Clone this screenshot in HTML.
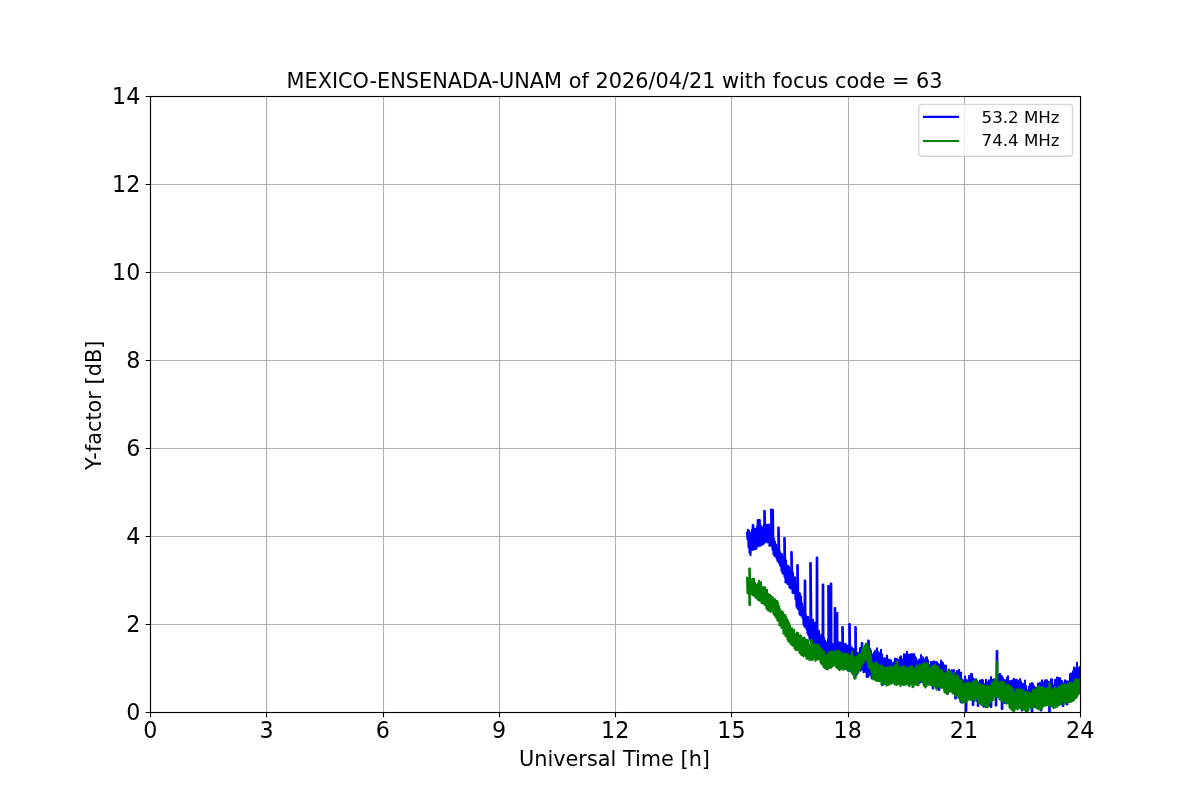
<!DOCTYPE html>
<html lang="en"><head><meta charset="utf-8"><title>MEXICO-ENSENADA-UNAM Y-factor</title>
<style>html,body{margin:0;padding:0;background:#fff;overflow:hidden}svg{display:block}</style>
</head><body>
<svg width="1200" height="800" viewBox="0 0 1200 800">
<defs><clipPath id="axclip"><rect x="150.5" y="96.5" width="930" height="616"/></clipPath></defs>
<rect width="1200" height="800" fill="#ffffff"/>
<path d="M150.5,96.5V712.5M266.5,96.5V712.5M383.5,96.5V712.5M499.5,96.5V712.5M615.5,96.5V712.5M731.5,96.5V712.5M848.5,96.5V712.5M964.5,96.5V712.5M1080.5,96.5V712.5M150.5,712.5H1080.5M150.5,624.5H1080.5M150.5,536.5H1080.5M150.5,448.5H1080.5M150.5,360.5H1080.5M150.5,272.5H1080.5M150.5,184.5H1080.5M150.5,96.5H1080.5" stroke="#b0b0b0" stroke-width="1.11" fill="none"/>
<g clip-path="url(#axclip)" fill="none" stroke-width="2.08" stroke-linejoin="round" stroke-linecap="square">
<path d="M747.0,532.8 L747.5,539.2 L748.0,529.8 L748.5,547.2 L749.0,530.9 L749.5,552.8 L750.0,538.1 L750.5,555.1 L751.0,532.8 L751.5,540.9 L752.0,529.7 L752.5,549.9 L752.7,525.0 L753.3,525.0 L753.5,549.1 L754.0,531.5 L754.5,549.3 L755.0,528.9 L755.5,549.1 L756.0,530.0 L756.5,548.5 L757.0,526.5 L757.5,543.4 L757.7,520.0 L758.3,520.0 L758.5,546.2 L759.0,526.2 L759.5,545.5 L759.2,520.0 L759.8,520.0 L760.5,545.8 L761.0,525.8 L761.5,543.0 L762.0,527.6 L762.5,544.7 L763.0,527.3 L763.5,543.6 L764.0,524.7 L764.5,543.0 L764.2,511.0 L764.8,511.0 L765.5,541.6 L766.0,526.9 L766.5,539.4 L767.0,524.7 L767.5,542.5 L768.0,525.1 L768.5,542.0 L769.0,524.6 L769.5,546.0 L770.0,529.8 L770.5,544.6 L771.0,526.8 L771.5,545.6 L771.0,509.5 L771.6,509.5 L772.5,549.8 L772.4,510.0 L773.0,510.0 L773.5,554.3 L774.0,538.8 L774.5,556.1 L775.0,541.7 L775.5,552.7 L776.0,544.5 L776.5,558.4 L777.0,548.3 L777.5,561.0 L778.0,548.8 L778.5,562.0 L778.2,527.5 L778.8,527.5 L779.5,564.2 L780.0,552.0 L780.5,566.1 L781.0,557.7 L781.5,570.7 L782.0,554.0 L782.5,573.1 L783.0,559.7 L783.5,573.8 L784.0,557.2 L784.5,576.6 L784.2,538.0 L784.8,538.0 L785.5,582.4 L786.0,560.2 L786.5,578.1 L787.0,566.6 L787.5,583.9 L788.0,565.7 L788.5,584.3 L789.0,566.8 L789.5,587.6 L790.0,570.8 L790.5,588.5 L791.0,574.0 L791.5,587.6 L791.2,552.0 L791.8,552.0 L792.5,592.7 L793.0,572.7 L793.5,593.2 L794.0,577.4 L794.5,592.4 L795.0,577.2 L795.5,599.2 L796.0,584.0 L796.5,606.7 L797.0,585.4 L797.5,608.8 L797.2,565.0 L797.8,565.0 L798.5,609.4 L799.0,592.9 L799.5,614.2 L800.0,593.6 L800.5,615.4 L801.0,596.5 L801.5,611.3 L802.0,603.4 L802.5,617.9 L803.0,608.7 L803.5,624.7 L804.0,607.4 L804.5,626.8 L804.7,580.5 L805.3,580.5 L805.5,627.3 L806.0,615.6 L806.5,629.5 L807.0,618.8 L807.5,633.1 L808.0,616.8 L808.5,635.5 L809.0,623.6 L809.5,639.0 L810.0,620.2 L810.5,641.7 L810.2,563.0 L810.8,563.0 L811.5,642.3 L812.0,624.2 L812.5,643.4 L813.0,619.7 L813.5,647.3 L814.0,626.9 L814.5,650.9 L815.0,622.7 L815.5,653.8 L816.0,625.4 L816.5,653.5 L816.7,557.5 L817.3,557.5 L817.5,655.4 L818.0,638.4 L818.5,657.4 L819.0,630.9 L819.5,654.1 L820.0,636.2 L820.5,658.3 L821.0,635.4 L821.5,662.3 L822.0,634.4 L822.5,663.4 L822.7,584.5 L823.3,584.5 L823.5,658.5 L824.0,637.7 L824.5,666.8 L825.0,640.6 L825.5,666.7 L826.0,642.1 L826.5,668.0 L827.0,642.5 L827.5,667.4 L828.0,639.6 L828.5,665.2 L828.2,586.0 L828.8,586.0 L829.5,661.0 L830.0,648.6 L830.5,664.2 L830.7,583.5 L831.3,583.5 L831.5,666.3 L832.0,643.5 L832.5,661.7 L833.0,644.3 L833.5,664.2 L834.0,646.4 L834.5,663.8 L834.7,608.0 L835.3,608.0 L835.5,662.8 L836.0,643.3 L836.5,658.5 L836.7,613.0 L837.3,613.0 L837.5,659.2 L838.0,641.8 L838.5,667.2 L839.0,642.6 L839.5,666.3 L840.0,644.6 L840.5,667.8 L841.0,642.5 L841.5,662.8 L842.0,645.4 L842.5,665.1 L842.2,627.0 L842.8,627.0 L843.5,665.5 L844.0,646.0 L844.5,664.9 L845.0,644.0 L845.5,666.1 L846.0,644.4 L846.5,668.3 L847.0,650.9 L847.5,670.3 L848.0,645.8 L848.5,670.9 L849.0,652.1 L849.5,669.7 L849.2,624.0 L849.8,624.0 L850.5,671.1 L851.0,647.0 L851.5,670.1 L852.0,647.8 L852.5,672.3 L853.0,649.7 L853.5,674.4 L854.0,649.1 L854.5,677.6 L855.0,649.0 L855.5,676.6 L855.2,627.0 L855.8,627.0 L856.5,675.0 L857.0,657.0 L857.5,673.5 L858.0,653.0 L858.5,668.8 L859.0,653.2 L859.5,665.1 L860.0,648.1 L860.5,670.8 L861.0,650.3 L861.5,669.6 L861.7,643.0 L862.3,643.0 L862.5,665.2 L863.0,647.9 L863.5,672.2 L864.0,648.9 L864.5,669.3 L865.0,652.4 L865.5,672.0 L866.0,653.3 L866.5,673.0 L867.0,647.7 L866.7,677.0 L867.3,677.0 L868.0,654.2 L868.5,676.5 L868.2,640.5 L868.8,640.5 L869.5,674.4 L870.0,648.5 L870.5,667.9 L871.0,650.9 L871.5,677.0 L872.0,654.2 L871.7,678.5 L872.3,678.5 L873.0,660.3 L873.5,676.3 L874.0,652.8 L874.5,678.3 L875.0,651.1 L875.5,673.9 L876.0,656.7 L876.5,679.3 L877.0,648.4 L877.5,675.7 L878.0,651.8 L878.5,677.9 L879.0,653.1 L879.5,677.4 L880.0,654.9 L880.5,678.6 L881.0,649.9 L881.5,679.7 L882.0,654.6 L882.5,685.3 L883.0,657.9 L883.5,679.8 L884.0,658.3 L884.5,683.8 L885.0,662.9 L885.5,677.5 L886.0,658.4 L886.5,684.3 L887.0,655.5 L887.5,678.7 L888.0,661.2 L888.5,682.5 L889.0,659.6 L889.5,680.5 L890.0,662.4 L890.5,681.7 L891.0,660.3 L891.5,682.9 L892.0,663.0 L892.5,681.2 L893.0,663.1 L893.5,679.5 L894.0,662.1 L894.5,683.1 L895.0,658.6 L895.5,683.6 L896.0,665.6 L896.5,681.8 L897.0,658.9 L897.5,680.1 L898.0,665.1 L898.5,683.4 L899.0,659.9 L899.5,677.6 L900.0,657.4 L900.5,681.1 L901.0,656.4 L901.5,680.6 L902.0,661.3 L902.5,684.5 L903.0,659.4 L903.5,678.5 L904.0,654.3 L904.5,680.2 L905.0,655.4 L905.5,681.4 L906.0,654.0 L906.5,682.5 L907.0,651.9 L907.5,682.7 L908.0,656.5 L908.5,676.9 L909.0,654.8 L909.5,680.2 L910.0,659.6 L910.5,682.8 L911.0,654.0 L911.5,671.5 L912.0,656.7 L912.5,683.3 L913.0,654.4 L913.5,684.6 L914.0,654.0 L914.5,680.6 L915.0,656.3 L915.5,671.4 L916.0,658.1 L916.5,683.4 L917.0,663.0 L917.5,682.9 L918.0,660.8 L918.5,677.8 L919.0,659.5 L919.5,682.9 L920.0,661.0 L920.5,682.3 L921.0,655.0 L921.5,681.4 L922.0,658.1 L922.5,678.9 L923.0,657.3 L923.5,681.7 L924.0,665.5 L924.5,684.7 L925.0,659.2 L925.5,683.1 L926.0,657.5 L926.5,684.0 L927.0,657.3 L927.5,679.3 L928.0,660.2 L928.5,683.4 L929.0,668.5 L929.5,681.2 L930.0,665.0 L930.5,682.8 L931.0,662.1 L931.5,681.5 L932.0,662.0 L932.5,686.6 L933.0,664.9 L932.7,688.5 L933.3,688.5 L934.0,661.3 L934.5,685.0 L935.0,662.9 L935.5,681.0 L936.0,662.0 L936.5,688.2 L937.0,662.4 L937.5,687.9 L938.0,663.9 L938.5,688.0 L939.0,664.9 L938.7,690.0 L939.3,690.0 L940.0,665.9 L940.5,684.4 L941.0,660.5 L941.5,679.3 L942.0,662.3 L942.5,684.4 L943.0,662.8 L943.5,687.4 L944.0,665.2 L944.5,690.3 L945.0,668.3 L945.5,688.1 L946.0,665.5 L946.5,692.8 L947.0,671.3 L947.5,693.9 L948.0,672.2 L948.5,692.1 L949.0,669.6 L949.5,687.8 L950.0,672.8 L950.5,689.6 L951.0,670.8 L951.5,689.2 L952.0,670.3 L952.5,690.9 L953.0,671.6 L953.5,688.4 L954.0,670.1 L954.5,686.6 L955.0,676.9 L955.2,698.5 L955.8,698.5 L956.0,673.1 L956.5,695.3 L957.0,671.1 L957.5,695.0 L958.0,671.8 L958.5,697.4 L959.0,669.9 L959.5,696.5 L960.0,675.6 L960.5,702.1 L961.0,672.6 L961.5,702.2 L962.0,679.6 L962.5,698.7 L963.0,681.0 L963.5,702.0 L964.0,680.3 L964.5,699.8 L965.0,676.5 L965.5,699.7 L966.0,679.7 L965.7,711.0 L966.3,711.0 L967.0,681.8 L967.5,698.4 L968.0,680.4 L968.5,695.0 L969.0,676.1 L969.5,697.9 L970.0,676.0 L970.5,697.6 L971.0,674.1 L971.5,699.4 L972.0,674.1 L972.5,695.9 L973.0,678.3 L972.7,705.0 L973.3,705.0 L974.0,679.2 L974.5,696.4 L975.0,682.3 L975.5,696.5 L976.0,679.5 L976.5,700.7 L977.0,682.4 L977.5,700.5 L978.0,682.6 L977.7,706.0 L978.3,706.0 L979.0,682.4 L979.5,702.7 L980.0,680.6 L980.5,697.7 L981.0,689.4 L981.5,704.4 L982.0,679.9 L982.5,696.9 L983.0,680.5 L983.5,706.8 L984.0,684.0 L984.5,704.4 L985.0,686.2 L985.5,707.0 L986.0,679.8 L986.5,701.8 L987.0,682.3 L987.5,701.9 L988.0,684.0 L988.5,699.7 L989.0,680.2 L989.5,704.6 L990.0,682.1 L990.5,702.5 L991.0,677.1 L990.7,707.0 L991.3,707.0 L992.0,679.9 L992.5,699.9 L993.0,683.2 L993.5,695.4 L994.0,679.3 L994.5,695.4 L995.0,681.3 L995.5,696.2 L996.0,680.4 L995.7,705.5 L996.3,705.5 L996.7,651.0 L997.3,651.0 L997.5,693.2 L998.0,675.1 L998.5,697.2 L999.0,675.2 L999.5,692.9 L1000.0,673.9 L1000.5,698.7 L1001.0,675.7 L1001.5,698.5 L1002.0,676.4 L1001.7,709.0 L1002.3,709.0 L1003.0,678.1 L1003.5,694.2 L1004.0,679.8 L1004.5,701.0 L1005.0,680.3 L1004.7,703.0 L1005.3,703.0 L1006.0,682.7 L1006.5,700.2 L1007.0,677.5 L1007.5,701.6 L1008.0,676.4 L1008.5,702.7 L1009.0,681.1 L1009.5,704.1 L1010.0,684.9 L1010.5,706.9 L1011.0,680.8 L1011.5,708.3 L1012.0,685.5 L1012.5,709.5 L1013.0,680.0 L1013.5,708.9 L1014.0,678.9 L1014.5,703.9 L1015.0,683.9 L1015.5,701.4 L1016.0,679.9 L1016.5,707.2 L1017.0,679.9 L1017.5,705.3 L1018.0,685.4 L1018.5,701.4 L1019.0,680.8 L1019.5,702.8 L1020.0,679.1 L1020.5,706.7 L1021.0,681.5 L1021.5,705.0 L1022.0,686.5 L1021.7,710.5 L1022.3,710.5 L1023.0,683.8 L1023.5,702.2 L1024.0,686.2 L1024.5,707.4 L1025.0,680.5 L1025.5,705.4 L1026.0,686.0 L1026.5,710.7 L1027.0,690.5 L1027.5,706.8 L1028.0,692.0 L1028.5,697.6 L1029.0,686.5 L1029.5,705.1 L1030.0,684.1 L1030.5,707.8 L1031.0,684.6 L1031.5,704.8 L1032.0,683.0 L1031.7,712.0 L1032.3,712.0 L1033.0,684.0 L1033.5,706.8 L1034.0,686.4 L1034.5,706.5 L1035.0,687.6 L1035.5,703.9 L1036.0,693.8 L1036.5,705.6 L1037.0,691.5 L1037.5,706.8 L1038.0,683.5 L1038.5,704.3 L1039.0,685.2 L1039.5,705.4 L1040.0,682.8 L1040.5,703.3 L1041.0,684.1 L1040.7,710.5 L1041.3,710.5 L1042.0,680.2 L1042.5,705.2 L1043.0,682.3 L1043.5,704.0 L1044.0,682.6 L1044.5,702.0 L1045.0,680.4 L1045.5,705.2 L1046.0,680.4 L1046.5,700.5 L1047.0,680.3 L1047.5,702.5 L1048.0,682.1 L1048.5,704.1 L1049.0,681.9 L1049.2,712.0 L1049.8,712.0 L1050.0,683.3 L1050.5,704.4 L1051.0,679.4 L1051.5,700.5 L1052.0,679.2 L1052.5,703.6 L1053.0,685.6 L1053.5,701.8 L1054.0,685.1 L1054.5,706.0 L1055.0,679.9 L1055.5,696.9 L1056.0,683.3 L1056.5,703.6 L1057.0,677.5 L1057.5,705.7 L1058.0,677.9 L1058.5,695.2 L1059.0,680.3 L1059.5,701.4 L1060.0,678.0 L1060.5,702.8 L1061.0,680.9 L1061.5,702.2 L1062.0,680.8 L1062.5,701.3 L1063.0,683.2 L1062.7,706.0 L1063.3,706.0 L1064.0,683.2 L1064.5,702.3 L1065.0,680.2 L1065.5,697.6 L1066.0,681.8 L1066.5,699.4 L1067.0,681.3 L1066.7,704.5 L1067.3,704.5 L1068.0,684.3 L1068.5,699.6 L1069.0,681.2 L1069.5,701.6 L1070.0,674.4 L1070.5,700.1 L1071.0,673.5 L1071.5,694.7 L1072.0,674.1 L1072.5,700.0 L1073.0,671.4 L1073.5,696.7 L1074.0,667.6 L1074.5,698.9 L1075.0,668.3 L1075.5,690.4 L1076.0,670.0 L1076.5,691.1 L1077.0,662.7 L1077.5,693.5 L1078.0,668.1 L1078.5,693.1 L1079.0,672.0 L1079.5,691.3 L1080.0,666.8 L1080.5,686.3 L1081.0,667.7" stroke="#0000ff"/>
<path d="M747.0,577.7 L747.5,593.3 L748.0,578.5 L748.5,592.3 L749.0,579.0 L749.4,605.0 L750.0,605.0 L749.2,568.5 L749.8,568.5 L750.5,591.9 L751.0,579.4 L751.5,593.8 L752.0,579.6 L752.5,595.1 L753.0,578.9 L753.5,594.6 L754.0,578.9 L754.5,596.1 L755.0,582.6 L755.5,597.7 L756.0,584.5 L756.5,596.0 L757.0,584.6 L757.5,599.5 L758.0,583.3 L758.5,599.9 L759.0,580.8 L759.5,600.6 L760.0,588.1 L760.5,600.5 L761.0,582.0 L761.5,602.9 L762.0,587.1 L762.5,603.1 L763.0,587.0 L763.5,603.4 L764.0,588.7 L764.5,604.6 L765.0,587.2 L765.5,605.5 L766.0,590.2 L766.5,608.6 L767.0,589.9 L767.5,609.7 L768.0,593.9 L768.5,610.6 L769.0,595.2 L769.5,607.4 L770.0,594.9 L770.5,612.0 L771.0,595.7 L771.5,608.1 L772.0,597.4 L772.5,611.2 L773.0,597.3 L773.5,614.0 L774.0,599.0 L774.5,615.1 L775.0,599.3 L775.5,616.6 L776.0,603.5 L776.5,618.3 L777.0,600.7 L777.5,620.6 L778.0,602.6 L778.5,620.6 L779.0,606.1 L779.5,625.5 L780.0,609.2 L780.5,624.9 L781.0,611.9 L781.5,627.9 L782.0,611.4 L782.5,626.1 L783.0,612.2 L783.5,633.7 L784.0,616.2 L784.5,633.6 L785.0,614.7 L785.5,636.3 L786.0,616.4 L786.5,634.3 L787.0,618.9 L787.5,639.6 L788.0,620.7 L788.5,641.6 L789.0,623.1 L789.5,640.4 L790.0,625.6 L790.5,643.6 L791.0,629.9 L791.5,644.4 L792.0,628.3 L792.5,645.6 L793.0,630.4 L793.5,645.8 L794.0,629.9 L794.5,648.2 L795.0,633.8 L795.5,649.9 L796.0,635.4 L796.5,645.9 L797.0,632.5 L797.5,650.1 L798.0,633.1 L798.5,647.2 L799.0,635.9 L799.5,652.7 L800.0,635.2 L800.5,653.8 L801.0,635.8 L801.5,655.1 L802.0,637.9 L802.5,654.7 L803.0,639.5 L803.5,656.4 L804.0,637.5 L804.5,654.3 L805.0,638.8 L805.5,655.7 L806.0,641.4 L806.5,658.6 L807.0,639.7 L807.5,658.6 L808.0,640.5 L808.5,655.4 L809.0,644.1 L809.5,660.3 L810.0,647.4 L810.5,659.2 L811.0,646.8 L811.5,659.8 L811.2,640.0 L811.8,640.0 L812.5,660.0 L813.0,643.4 L813.5,658.3 L814.0,646.8 L814.5,658.6 L815.0,644.3 L815.5,661.0 L816.0,644.6 L816.5,659.0 L817.0,646.7 L817.5,659.5 L818.0,644.5 L818.5,659.2 L819.0,645.9 L819.5,658.9 L820.0,647.6 L820.5,662.5 L821.0,648.4 L821.5,663.9 L822.0,649.3 L822.5,664.5 L823.0,650.6 L823.5,666.8 L824.0,651.8 L824.5,667.8 L825.0,655.7 L825.5,668.2 L826.0,656.6 L826.5,669.0 L827.0,654.8 L827.5,669.5 L828.0,655.5 L828.5,666.4 L829.0,652.3 L829.5,668.1 L830.0,655.8 L830.5,667.2 L831.0,651.3 L831.5,667.7 L832.0,652.5 L832.5,665.9 L833.0,651.5 L833.5,665.6 L834.0,652.2 L834.5,663.3 L835.0,652.6 L835.5,665.7 L836.0,650.5 L836.5,667.8 L837.0,651.1 L837.5,667.6 L838.0,651.9 L838.5,669.1 L839.0,650.8 L839.5,670.3 L840.0,653.8 L840.5,668.6 L841.0,652.0 L841.5,668.9 L842.0,654.9 L842.5,667.9 L843.0,654.1 L843.5,670.0 L844.0,653.3 L844.5,668.7 L845.0,654.4 L845.5,668.9 L846.0,653.8 L846.5,667.9 L847.0,656.2 L847.5,670.2 L848.0,654.4 L848.5,670.7 L849.0,658.5 L849.5,669.7 L850.0,656.9 L850.5,669.8 L851.0,655.2 L851.5,672.5 L852.0,651.6 L852.5,674.0 L853.0,659.4 L853.5,671.1 L854.0,657.1 L854.5,678.8 L855.0,659.3 L855.5,678.5 L856.0,659.6 L856.5,672.6 L857.0,656.1 L857.5,672.5 L858.0,658.7 L858.5,672.1 L859.0,654.0 L859.5,670.4 L860.0,655.8 L860.5,668.1 L861.0,653.9 L861.5,665.8 L862.0,650.1 L862.5,664.3 L863.0,647.5 L863.5,663.0 L864.0,648.8 L864.5,657.7 L865.0,645.4 L865.5,660.0 L866.0,643.6 L866.5,658.1 L867.0,644.8 L867.5,662.2 L868.0,645.8 L868.5,667.4 L869.0,648.5 L869.5,668.1 L870.0,651.7 L870.5,669.0 L871.0,656.6 L871.5,672.3 L872.0,666.9 L872.5,677.6 L873.0,663.2 L873.5,679.5 L874.0,663.5 L874.5,677.7 L875.0,664.2 L875.5,680.2 L876.0,662.1 L876.5,680.9 L877.0,662.9 L877.5,679.4 L878.0,664.9 L878.5,681.3 L879.0,666.5 L879.5,681.0 L880.0,666.1 L880.5,680.5 L881.0,668.2 L881.5,684.7 L882.0,665.2 L882.5,682.9 L883.0,670.7 L883.5,682.4 L884.0,667.4 L884.5,684.2 L885.0,667.6 L885.5,679.2 L886.0,667.7 L886.5,685.7 L887.0,667.8 L887.5,682.9 L888.0,667.8 L888.5,684.9 L889.0,669.6 L889.5,684.3 L890.0,666.1 L890.5,681.0 L891.0,667.1 L891.5,683.8 L892.0,670.0 L892.5,680.4 L893.0,667.2 L893.5,682.0 L894.0,666.4 L894.5,684.3 L895.0,665.2 L895.5,684.2 L896.0,665.2 L896.5,685.1 L896.7,662.0 L897.3,662.0 L897.5,683.8 L898.0,665.8 L898.5,684.3 L899.0,667.8 L899.5,681.9 L900.0,668.0 L900.5,686.1 L901.0,667.3 L901.5,683.0 L902.0,666.4 L902.5,683.4 L903.0,667.1 L903.5,684.9 L904.0,666.4 L904.5,685.0 L905.0,669.9 L905.5,684.4 L906.0,668.0 L906.5,682.8 L907.0,668.0 L907.5,684.1 L908.0,670.3 L908.5,685.3 L909.0,668.1 L909.5,686.1 L910.0,666.6 L910.5,684.3 L911.0,667.5 L911.5,681.5 L912.0,666.4 L912.5,687.2 L913.0,668.4 L913.5,686.7 L914.0,668.7 L914.5,684.1 L915.0,668.7 L915.5,684.6 L916.0,668.1 L916.5,682.6 L917.0,665.4 L917.5,685.2 L918.0,670.5 L918.5,685.3 L919.0,666.3 L919.5,681.1 L920.0,664.7 L920.5,679.9 L921.0,666.6 L921.5,680.5 L922.0,665.8 L922.5,682.0 L923.0,664.0 L923.5,684.8 L924.0,663.3 L924.5,686.3 L925.0,663.2 L925.5,687.6 L926.0,663.0 L926.5,686.1 L927.0,664.1 L927.5,679.2 L928.0,664.4 L928.5,684.7 L929.0,668.6 L929.5,684.6 L930.0,670.3 L930.5,682.4 L931.0,667.8 L931.5,685.4 L932.0,666.6 L932.5,682.9 L933.0,666.1 L933.5,686.6 L934.0,665.9 L934.5,681.1 L935.0,665.0 L935.5,686.8 L936.0,669.0 L936.5,689.6 L937.0,666.2 L937.5,686.1 L938.0,666.7 L938.5,686.4 L939.0,670.6 L939.5,686.5 L940.0,670.9 L940.5,687.5 L941.0,670.0 L941.5,687.6 L942.0,670.5 L942.5,687.7 L943.0,674.0 L943.5,686.9 L944.0,673.8 L944.5,692.5 L945.0,673.2 L945.5,692.0 L946.0,677.9 L946.5,693.4 L947.0,671.7 L947.5,694.3 L948.0,671.7 L948.5,691.5 L949.0,670.4 L949.5,690.4 L950.0,673.2 L950.5,691.7 L951.0,672.0 L951.5,688.2 L952.0,675.4 L952.5,692.9 L953.0,675.8 L953.5,693.8 L954.0,672.7 L954.5,691.6 L955.0,680.5 L955.5,695.6 L956.0,678.1 L956.5,695.6 L957.0,674.7 L957.5,693.6 L958.0,676.9 L958.5,697.6 L959.0,681.5 L959.5,698.8 L960.0,679.8 L960.5,700.0 L961.0,681.3 L961.5,702.6 L962.0,680.8 L962.5,702.4 L963.0,684.2 L963.5,702.7 L964.0,685.6 L964.5,699.6 L965.0,683.7 L965.5,700.3 L966.0,686.5 L966.5,702.1 L967.0,682.8 L967.5,698.7 L968.0,682.2 L968.5,699.7 L969.0,685.0 L969.5,698.6 L970.0,683.2 L970.5,700.0 L971.0,685.3 L971.5,699.3 L972.0,683.1 L972.5,699.4 L973.0,681.9 L973.5,698.1 L974.0,681.1 L974.5,701.1 L975.0,682.8 L975.5,698.9 L976.0,679.1 L976.5,696.5 L977.0,680.4 L977.5,699.2 L978.0,685.2 L978.5,703.3 L979.0,683.7 L979.5,699.0 L980.0,684.5 L980.5,702.4 L981.0,685.5 L981.5,704.6 L982.0,685.4 L982.5,704.5 L983.0,685.6 L983.5,705.3 L984.0,685.4 L984.5,705.5 L985.0,688.6 L985.5,702.6 L986.0,690.9 L986.5,707.1 L987.0,685.7 L987.5,707.3 L988.0,685.8 L988.5,706.5 L989.0,691.0 L989.5,702.7 L990.0,688.3 L990.5,701.7 L991.0,685.8 L991.5,701.2 L992.0,682.3 L992.5,699.2 L993.0,682.4 L993.5,700.0 L994.0,682.4 L994.5,691.4 L995.0,680.0 L995.5,696.4 L996.0,681.9 L996.5,696.7 L996.7,662.0 L997.3,662.0 L997.5,695.8 L998.0,682.5 L998.5,696.4 L999.0,682.5 L999.5,699.4 L1000.0,683.0 L1000.5,695.7 L1001.0,682.1 L1001.5,701.1 L1002.0,681.6 L1002.5,701.3 L1003.0,684.9 L1003.5,701.7 L1004.0,682.3 L1004.5,698.7 L1005.0,687.7 L1005.5,702.5 L1006.0,685.3 L1006.5,703.7 L1007.0,685.5 L1007.5,702.8 L1008.0,684.6 L1008.5,702.8 L1009.0,686.8 L1009.5,707.1 L1010.0,686.4 L1010.5,708.8 L1011.0,688.9 L1011.5,708.1 L1012.0,688.1 L1012.5,710.2 L1013.0,688.8 L1013.5,711.4 L1014.0,693.0 L1014.5,710.5 L1015.0,693.5 L1015.5,708.5 L1016.0,690.2 L1016.5,704.1 L1017.0,689.4 L1017.5,709.5 L1018.0,689.3 L1018.5,708.6 L1019.0,689.7 L1019.5,706.8 L1020.0,689.7 L1020.5,707.9 L1021.0,689.5 L1021.5,706.3 L1022.0,690.3 L1022.5,709.7 L1023.0,690.3 L1023.5,709.4 L1024.0,691.8 L1024.5,706.4 L1025.0,691.9 L1025.5,710.9 L1026.0,691.7 L1026.5,711.0 L1027.0,693.1 L1027.5,711.3 L1028.0,693.3 L1028.5,710.1 L1029.0,692.3 L1029.5,706.7 L1030.0,693.4 L1030.5,706.9 L1031.0,693.7 L1031.5,708.8 L1032.0,694.4 L1032.5,706.9 L1033.0,689.8 L1033.5,702.2 L1034.0,689.6 L1034.5,705.0 L1035.0,691.5 L1035.5,707.4 L1036.0,691.1 L1036.5,708.2 L1037.0,687.5 L1037.5,703.8 L1038.0,691.4 L1038.5,709.4 L1039.0,686.4 L1039.5,705.6 L1040.0,688.3 L1040.5,708.7 L1041.0,687.6 L1041.5,709.9 L1042.0,689.9 L1042.5,707.2 L1043.0,687.1 L1043.5,706.2 L1044.0,688.9 L1044.5,704.2 L1045.0,688.6 L1045.5,705.6 L1046.0,688.5 L1046.5,703.8 L1047.0,691.8 L1047.5,704.9 L1048.0,687.7 L1048.5,705.6 L1049.0,691.9 L1049.5,705.5 L1049.2,683.5 L1049.8,683.5 L1050.5,704.4 L1051.0,693.6 L1051.5,706.3 L1052.0,690.0 L1052.5,706.6 L1053.0,689.3 L1053.5,708.1 L1054.0,689.5 L1054.5,700.4 L1055.0,687.4 L1055.5,707.5 L1056.0,688.9 L1056.5,703.5 L1057.0,689.9 L1057.5,706.6 L1058.0,687.0 L1058.5,704.1 L1059.0,687.3 L1059.5,704.9 L1060.0,687.9 L1060.5,699.3 L1061.0,685.6 L1061.5,704.3 L1062.0,685.3 L1062.5,700.7 L1063.0,684.5 L1063.5,700.3 L1064.0,686.7 L1064.5,703.9 L1065.0,684.2 L1065.5,702.0 L1066.0,686.0 L1066.5,699.6 L1067.0,685.0 L1067.5,702.9 L1068.0,683.6 L1068.5,698.9 L1069.0,684.2 L1069.5,701.9 L1070.0,682.2 L1070.5,701.6 L1071.0,683.8 L1071.5,701.8 L1072.0,683.9 L1072.5,699.2 L1073.0,683.1 L1073.5,700.7 L1074.0,681.9 L1074.5,698.7 L1075.0,679.9 L1075.5,697.1 L1076.0,679.2 L1076.5,697.6 L1077.0,681.3 L1077.5,695.7 L1078.0,679.9 L1078.5,693.2 L1079.0,683.7 L1079.5,690.8 L1080.0,678.7 L1080.5,694.4 L1081.0,681.9" stroke="#008000"/>
</g>
<path d="M150.5,712.5v4.86M266.5,712.5v4.86M383.5,712.5v4.86M499.5,712.5v4.86M615.5,712.5v4.86M731.5,712.5v4.86M848.5,712.5v4.86M964.5,712.5v4.86M1080.5,712.5v4.86M150.5,712.5h-4.86M150.5,624.5h-4.86M150.5,536.5h-4.86M150.5,448.5h-4.86M150.5,360.5h-4.86M150.5,272.5h-4.86M150.5,184.5h-4.86M150.5,96.5h-4.86" stroke="#000" stroke-width="1.11" fill="none"/>
<rect x="150.5" y="96.5" width="930" height="616" fill="none" stroke="#000" stroke-width="1.11"/>
<g font-family="'DejaVu Sans', 'Liberation Sans', sans-serif" fill="#000">
<g font-size="22.222px" text-anchor="middle">
<text x="150.25" y="738.4">0</text>
<text x="266.50" y="738.4">3</text>
<text x="382.75" y="738.4">6</text>
<text x="499.00" y="738.4">9</text>
<text x="615.25" y="738.4">12</text>
<text x="731.50" y="738.4">15</text>
<text x="847.75" y="738.4">18</text>
<text x="964.00" y="738.4">21</text>
<text x="1080.25" y="738.4">24</text>
</g>
<g font-size="22.222px" text-anchor="end">
<text x="140.4" y="719.6">0</text>
<text x="140.4" y="631.6">2</text>
<text x="140.4" y="543.6">4</text>
<text x="140.4" y="455.6">6</text>
<text x="140.4" y="367.6">8</text>
<text x="140.4" y="279.6">10</text>
<text x="140.4" y="191.6">12</text>
<text x="140.4" y="103.6">14</text>
</g>
<text x="614.5" y="87.6" font-size="20.833px" text-anchor="middle">MEXICO-ENSENADA-UNAM of 2026/04/21 with focus code = 63</text>
<text x="614.5" y="765.5" font-size="20.833px" text-anchor="middle">Universal Time [h]</text>
<text transform="translate(100.6,405.3) rotate(-90)" font-size="20.833px" text-anchor="middle">Y-factor [dB]</text>
</g>
<rect x="918.7" y="104.4" width="153.8" height="51.8" rx="3.3" ry="3.3" fill="#ffffff" fill-opacity="0.8" stroke="#cccccc" stroke-opacity="0.8" stroke-width="1.39"/>
<path d="M924,116.9H958" stroke="#0000ff" stroke-width="2.08" stroke-linecap="square" fill="none"/>
<path d="M924,141H958" stroke="#008000" stroke-width="2.08" stroke-linecap="square" fill="none"/>
<g font-family="'DejaVu Sans', 'Liberation Sans', sans-serif" fill="#000" font-size="16.667px">
<text x="981.6" y="122.9">53.2 MHz</text>
<text x="981.6" y="146.3">74.4 MHz</text>
</g>
</svg>
</body></html>
